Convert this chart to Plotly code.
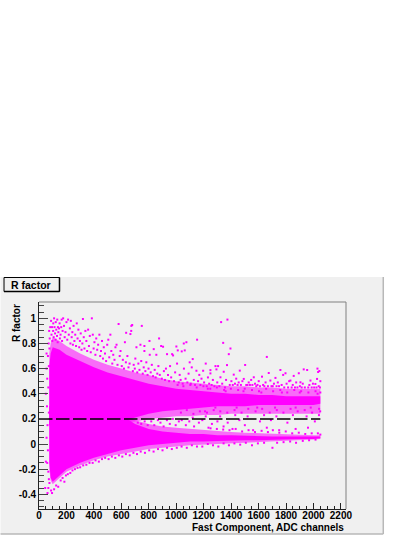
import plotly.graph_objects as go

FONT = "Liberation Sans"
MAGENTA = "#ff00ff"
PANEL = "#f0f0f0"

band_x = [75, 85, 100, 150, 200, 300, 400, 500, 600, 700, 800, 900, 1000, 1100, 1200,
          1300, 1400, 1500, 1600, 1700, 1800, 1900, 2000, 2050]
# envelopes of the cloud: busy part and solid part
upper_busy_hi = [.72, .8, .85, .82, .78, .72, .67, .63, .6, .57, .55, .52, .5, .49, .48,
                 .47, .46, .46, .45, .45, .44, .44, .44, .44]
upper_busy_lo = [.15, .15, .15, .15, .15, .15, .15, .15, .17, .18, .2, .21, .22, .22, .23,
                 .23, .24, .24, .24, .24, .24, .24, .24, .24]
upper_solid_hi = [.62, .72, .77, .75, .71, .66, .61, .57, .54, .51, .48, .46, .44, .43, .42,
                  .41, .4, .4, .39, .39, .38, .38, .38, .38]
upper_solid_lo = [.15, .15, .15, .15, .15, .15, .15, .15, .18, .21, .24, .26, .27, .28, .29,
                  .3, .3, .3, .31, .31, .31, .31, .31, .32]
lower_busy_hi = [.3, .3, .3, .3, .3, .3, .3, .3, .25, .19, .16, .14, .13, .12, .11,
                 .1, .095, .09, .085, .08, .08, .075, .07, .07]
lower_busy_lo = [-.2, -.29, -.32, -.27, -.22, -.17, -.13, -.1, -.08, -.06, -.04, -.03, -.02, -.01, 0,
                 .005, .01, .015, .02, .02, .025, .03, .035, .04]
lower_solid_hi = [.3, .3, .3, .3, .3, .3, .3, .3, .23, .16, .12, .1, .09, .08, .08,
                  .07, .07, .065, .065, .06, .06, .06, .06, .06]
lower_solid_lo = [-.15, -.27, -.3, -.25, -.2, -.15, -.11, -.08, -.05, -.03, -.01, 0, .01, .02, .02,
                  .025, .03, .03, .03, .035, .035, .04, .04, .045]

# stray and speckle points, one row per stretch of x
top_fringe = [
    (88, .98), (95, .93), (104, .96), (110, 1.0), (122, .97), (133, .99), (138, .93), (150, .96), (165, .99), (91, .87),
    (97, .82), (103, .9), (107, .85), (113, .93), (117, .88), (121, .83), (126, .91), (131, .86), (136, .81), (141, .89),
    (146, .92), (152, .84), (157, .87), (162, .93), (168, .82), (172, .9), (176, 1.0), (182, .94), (187, .85), (193, .89),
    (200, .97), (206, .83), (212, .99), (217, .87), (225, .92), (229, .8), (232, .98), (238, .85), (243, .89), (247, .79),
    (252, .94), (258, .82), (264, .87), (270, .78), (275, .96), (281, .84), (287, .91), (293, .77), (298, .82), (304, .88),
    (310, .75), (316, .8), (320, .995), (326, .85), (331, .76), (338, .9), (345, .82), (351, .74), (358, .91), (364, .78),
    (370, .86), (377, .73), (385, 1.0), (392, .87), (398, .76), (404, .81), (411, .71), (417, .84), (424, .75), (431, .79),
    (440, .87), (446, .7), (452, .74), (459, .82), (466, .68), (472, .77), (481, .72), (489, .66), (497, .79), (505, .83),
    (512, .69), (520, .87), (527, .74), (534, .64), (541, .71), (550, .67), (557, .77), (565, .79), (572, .63), (580, .955),
    (588, .7), (594, .74), (603, .62), (611, .67), (619, .6), (626, .81), (633, .65), (635, .885), (644, .7), (652, .61),
    (660, .64), (666, .875), (672, .9), (673, .94), (679, .947), (684, .58), (690, .63), (698, .6), (702, .68), (710, .77),
    (716, .57), (724, .64), (732, .59), (739, .79), (745, .66), (749, .94), (756, .56), (763, .61), (768, .78), (768, .74),
    (775, .58), (782, .65), (791, .55), (798, .6), (805, .82), (807, .71), (814, .57), (822, .63), (831, .54), (836, .755),
    (843, .59), (850, .53), (855, .71), (862, .56), (870, .62), (875, .84), (880, .55), (890, .78), (895, .52), (904, .774),
    (910, .58), (918, .51), (925, .6), (933, .715), (940, .55), (948, .5), (955, .62), (963, .53), (970, .715), (977, .705),
    (984, .5), (992, .57), (1001, .776), (1006, .64), (1011, .745), (1018, .49), (1025, .55), (1032, .51), (1040, .737),
    (1047, .48), (1055, .80), (1056, .6), (1062, .745), (1068, .52), (1074, .81), (1081, .49), (1090, .56), (1098, .65),
    (1106, .48), (1113, .61), (1120, .676), (1128, .51), (1137, .47), (1147, .583), (1152, .83), (1159, .5), (1168, .55),
    (1176, .47), (1184, .52), (1196, .583), (1203, .49), (1215, .64), (1222, .46), (1231, .53), (1240, .48), (1249, .588),
    (1249, .562), (1258, .47), (1267, .51), (1278, .46), (1286, .62), (1293, .594), (1299, .49), (1305, .62), (1314, .46),
    (1322, .531), (1327, .97), (1335, .48), (1342, .805), (1346, .575), (1355, .45), (1363, .51), (1370, .628), (1373, .99),
    (1383, .715), (1390, .47), (1395, .76), (1402, .5), (1412, .47), (1419, .552), (1428, .48), (1437, .52), (1447, .47),
    (1455, .49), (1463, .584), (1471, .47), (1482, .5), (1492, .518), (1502, .629), (1510, .47), (1519, .47), (1528, .49),
    (1537, .47), (1546, .51), (1555, .47), (1565, .531), (1574, .48), (1583, .46), (1592, .47), (1601, .5), (1610, .46),
    (1625, .536), (1633, .47), (1642, .46), (1651, .49), (1660, .693), (1668, .46), (1674, .565), (1686, .505), (1694, .46),
    (1703, .46), (1712, .48), (1723, .526), (1731, .46), (1740, .49), (1749, .46), (1759, .589), (1768, .47), (1779, .55),
    (1787, .45), (1796, .563), (1804, .48), (1815, .45), (1823, .5), (1832, .505), (1841, .45), (1849, .47), (1856, .542),
    (1865, .45), (1874, .49), (1883, .45), (1893, .563), (1901, .46), (1905, .491), (1914, .45), (1922, .48), (1929, .594),
    (1937, .45), (1954, .589), (1962, .45), (1970, .47), (1978, .505), (1987, .45), (1996, .48), (2005, .45), (2014, .478),
    (2022, .45), (2026, .518), (2029, .6), (2034, .573), (2038, .46), (2043, .581), (2047, .45), (2050, .5),
]
# below the upper band and in the gap around the dashed line
gap_points = [
    (720, .17), (745, .16), (770, .18), (792, .15), (818, .18), (840, .15), (866, .19), (885, .17), (908, .14), (932, .19),
    (953, .16), (975, .2), (996, .15), (1019, .18), (1040, .19), (1070, .15), (1095, .18), (1130, .14), (1165, .17),
    (1190, .19), (1235, .13), (1260, .16), (1300, .18), (1345, .14), (1375, .17), (1410, .12), (1460, .19), (1500, .15),
    (1560, .11), (1610, .18), (1660, .13), (1690, .19), (1750, .11), (1810, .17), (1870, .12), (1960, .13), (2010, .18),
    (1120, .21), (1215, .22), (1320, .22), (1430, .23), (1520, .22), (1640, .23), (1730, .22), (1850, .23), (1950, .22), (2040, .23),
]
low_fringe = [
    (60, -.15), (68, -.35), (45, -.35), (62, -.39), (88, -.37), (95, -.39), (110, -.36), (125, -.33), (140, -.34),
    (158, -.29), (172, -.27), (185, -.3), (196, -.25), (210, -.24), (228, -.23), (244, -.21), (262, -.2), (281, -.19),
    (300, -.185), (322, -.17), (345, -.165), (368, -.15), (391, -.15), (412, -.13), (436, -.14), (459, -.12), (482, -.11),
    (507, -.12), (531, -.1), (556, -.11), (582, -.09), (607, -.1), (633, -.08), (661, -.09), (688, -.07), (714, -.08),
    (741, -.06), (772, -.07), (803, -.05), (835, -.06), (867, -.04), (900, -.05), (933, -.03), (968, -.04), (1004, -.03),
    (1039, -.02), (1077, -.03), (1114, -.01), (1151, -.02), (1190, -.02), (1230, 0), (1268, -.01), (1307, -.02), (1345, .005),
    (1384, -.01), (1424, .005), (1466, -.005), (1507, .01), (1552, -.01), (1595, .005), (1640, .01), (1701, -.03), (1735, .01),
    (1782, .015), (1830, .02), (1873, .01), (1922, .025), (1968, .03), (2015, .035),
    (1250, .125), (1296, .12), (1342, .115), (1388, .11), (1433, .12), (1480, .1), (1527, .11), (1574, .095), (1622, .105),
    (1668, .095), (1704, .11), (1751, .09), (1798, .1), (1845, .085), (1893, .09), (1940, .08), (1987, .085), (2032, .085), (2050, .075),
]
# speckle on the thin right hand part of the upper band
band_speckle = [
    (1010, .47), (1034, .25), (1052, .46), (1077, .27), (1103, .47), (1125, .24), (1149, .45), (1172, .26), (1198, .46),
    (1224, .25), (1248, .44), (1273, .27), (1296, .45), (1321, .26), (1349, .43), (1372, .25), (1398, .44), (1425, .27),
    (1451, .43), (1476, .25), (1499, .44), (1525, .28), (1552, .43), (1578, .26), (1603, .42), (1626, .28), (1655, .44),
    (1681, .25), (1706, .42), (1733, .27), (1758, .43), (1781, .25), (1809, .41), (1833, .28), (1860, .43), (1885, .26),
    (1910, .42), (1936, .27), (1963, .41), (1990, .25), (2015, .42), (2041, .28), (2050, .41), (2049, .26),
    (1210, .26), (1285, .29), (1440, .29), (1590, .29), (1720, .29), (1870, .29), (1980, .29),
    (1230, .44), (1360, .42), (1490, .42), (1620, .41), (1770, .41), (1900, .41), (2030, .4),
]
left_edge = [
    (55, .72), (55, .6), (60, .52), (50, .4), (58, .3), (62, .15), (55, .05), (65, -.05), (50, -.14), (68, -.22),
    (65, .7), (70, .8), (72, .62), (68, .45), (72, .25), (74, .9), (78, .84), (82, .93), (76, .76), (72, -.28), (76, -.31),
]
dash_x = [0, 2050]
dash_y = [.2, .2]

x_min, x_max = 0, 2237
y_min, y_max = -.517, 1.13
x_ticks = list(range(0, 2201, 200))
y_ticks = [-.4, -.2, 0, .2, .4, .6, .8, 1]
y_labels = ["-0.4", "-0.2", "0", "0.2", "0.4", "0.6", "0.8", "1"]

L, R, T, B = 38.5, 345.7, 302, 509


def px(v):
    return (v - L) / (R - L)


def py(v):
    return (B - v) / (B - T)


def band(fig, xs, hi, lo, color):
    fig.add_trace(go.Scatter(x=xs + xs[::-1], y=hi + lo[::-1], mode="lines", line={"width": 0},
                             fill="toself", fillcolor=color, hoverinfo="skip", showlegend=False))


fig = go.Figure()
band(fig, band_x, upper_busy_hi, upper_busy_lo, "rgba(255,0,255,0.55)")
band(fig, band_x, lower_busy_hi, lower_busy_lo, "rgba(255,0,255,0.55)")
band(fig, band_x, upper_solid_hi, upper_solid_lo, MAGENTA)
band(fig, band_x, lower_solid_hi, lower_solid_lo, MAGENTA)

for pts in (top_fringe, gap_points, low_fringe, band_speckle, left_edge):
    fig.add_trace(go.Scatter(x=[p[0] for p in pts], y=[p[1] for p in pts], mode="markers",
                             marker={"symbol": "square", "size": 2, "color": MAGENTA, "line": {"width": 0}},
                             hoverinfo="skip", showlegend=False))

fig.add_trace(go.Scatter(x=dash_x, y=dash_y, mode="lines", hoverinfo="skip", showlegend=False,
                         line={"color": "black", "width": 1.5, "dash": "13.5px,3.5px"}))

tick_font = {"family": FONT, "size": 10, "color": "black", "weight": "bold"}
fig.update_xaxes(range=[x_min, x_max], tickvals=x_ticks, ticks="inside", ticklen=6, tickcolor="#222", tickwidth=1,
                 showgrid=False, zeroline=False, showline=True, linecolor="#222", linewidth=1,
                 tickfont=tick_font, ticklabelstandoff=-3,
                 minor={"ticks": "inside", "dtick": 50, "ticklen": 3, "tickcolor": "#222"})
fig.update_yaxes(range=[y_min, y_max], tickvals=y_ticks, ticktext=y_labels, ticks="inside", ticklen=9,
                 tickcolor="#444", tickwidth=1, showgrid=False, zeroline=False, showline=True, linecolor="#222",
                 linewidth=1, tickfont=tick_font,
                 minor={"ticks": "inside", "dtick": .05, "tick0": 0, "ticklen": 5, "tickcolor": "#444"})

shapes = [
    # outer pad with its bevel
    {"type": "rect", "xref": "paper", "yref": "paper", "x0": px(0), "x1": px(383), "y0": py(534), "y1": py(277),
     "fillcolor": PANEL, "line": {"width": 0}, "layer": "below"},
    {"type": "line", "xref": "paper", "yref": "paper", "x0": px(383), "x1": px(383), "y0": py(534), "y1": py(277),
     "line": {"color": "#b8b8b8", "width": 1.5}},
    {"type": "line", "xref": "paper", "yref": "paper", "x0": px(0), "x1": px(383), "y0": py(534), "y1": py(534),
     "line": {"color": "#b8b8b8", "width": 1.5}},
    # frame of the plot
    {"type": "line", "xref": "paper", "yref": "paper", "x0": 0, "x1": 1, "y0": 1, "y1": 1,
     "line": {"color": "#808080", "width": 1}},
    {"type": "line", "xref": "paper", "yref": "paper", "x0": 1, "x1": 1, "y0": 0, "y1": 1,
     "line": {"color": "#808080", "width": 1}},
    # title box
    {"type": "rect", "xref": "paper", "yref": "paper", "x0": px(3.5), "x1": px(59), "y0": py(291.5), "y1": py(277.5),
     "fillcolor": PANEL, "line": {"color": "black", "width": 1}},
    {"type": "line", "xref": "paper", "yref": "paper", "x0": px(59), "x1": px(59), "y0": py(291.5), "y1": py(277.5),
     "line": {"color": "black", "width": 1.5}},
    {"type": "line", "xref": "paper", "yref": "paper", "x0": px(3.5), "x1": px(59), "y0": py(291.5), "y1": py(291.5),
     "line": {"color": "black", "width": 1.5}},
]

title_font = {"family": FONT, "size": 10, "color": "black"}
annotations = [
    {"text": "<b>R factor</b>", "xref": "paper", "yref": "paper", "x": px(30), "y": py(284.5), "showarrow": False,
     "xanchor": "center", "yanchor": "middle", "font": {"family": FONT, "size": 10.5, "color": "black"}},
    {"text": "<b>R factor</b>", "xref": "paper", "yref": "paper", "x": px(15.5), "y": py(302), "showarrow": False,
     "xanchor": "center", "yanchor": "top", "textangle": -90, "font": title_font},
    {"text": "<b>Fast Component, ADC channels</b>", "xref": "paper", "yref": "paper", "x": 1, "y": py(527),
     "showarrow": False, "xanchor": "right", "yanchor": "middle", "font": title_font},
]

fig.update_layout(width=415, height=536, margin={"l": L, "r": 415 - R, "t": T, "b": 536 - B, "pad": 0},
                  paper_bgcolor="white", plot_bgcolor=PANEL, showlegend=False, shapes=shapes,
                  annotations=annotations, font={"family": FONT})

fig.write_html("out.html", config={"displayModeBar": False},
               post_script="document.body.style.margin='0';document.documentElement.style.overflow='hidden';")
